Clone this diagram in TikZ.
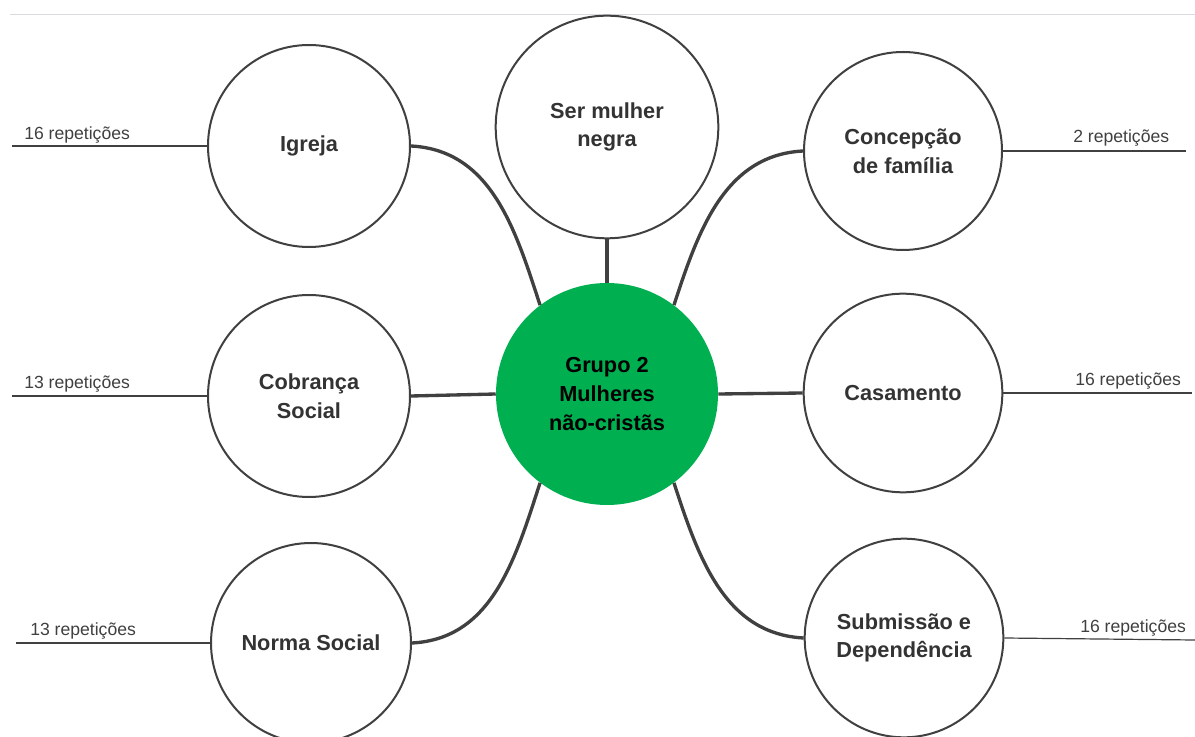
\documentclass[tikz,border=0pt]{standalone}
\usepackage{fontspec}
\setmainfont{Liberation Sans}
\definecolor{edge}{HTML}{404040}
\definecolor{txt}{HTML}{333333}
\definecolor{grn}{HTML}{00AF50}
\definecolor{topline}{HTML}{DADAE2}
\tikzset{
  bubble/.style={circle, draw=edge, line width=1.5pt, fill=white, inner sep=0pt,
    align=center, text=txt, font=\fontsize{16.3}{21.5}\selectfont\bfseries},
  hub/.style={circle, fill=grn, inner sep=0pt, minimum size=166.5pt,
    align=center, text=black, font=\fontsize{16.3}{21.75}\selectfont\bfseries},
  conn/.style={draw=edge, line width=2.5pt},
  tick/.style={draw=edge, line width=0.9pt},
  rep/.style={text=edge, font=\fontsize{13.2}{15}\selectfont, inner sep=0pt},
}
\begin{document}
\begin{tikzpicture}[x=0.75pt,y=0.75pt]
\useasboundingbox (0,0) rectangle (1195,-737);
\fill[white] (0,0) rectangle (1195,-737);
\draw[topline, line width=1pt] (10,-14.5) -- (1195,-14.5);

% nodes
\node[hub] (hub) at (607,-394) {Grupo 2\\Mulheres\\não-cristãs};
\node[bubble, minimum size=167pt] (ser) at (607,-127) {Ser mulher\\negra};
\node[bubble, minimum size=151.5pt] (igreja) at (309,-146) {Igreja};
\node[bubble, minimum size=151.5pt] (cobranca) at (309,-396) {Cobrança\\Social};
\node[bubble, minimum size=150pt] (norma) at (311,-643) {Norma Social};
\node[bubble, minimum size=148.5pt] (concepcao) at (903,-151) {Concepção\\de família};
\node[bubble, minimum size=149pt] (casamento) at (903,-393) {Casamento};
\node[bubble, minimum size=149pt] (submissao) at (904,-638) {Submissão e\\Dependência};

% connectors
\draw[conn] (ser.south) -- (hub.north);
\draw[conn] (igreja.east) to[out=-3,in=108] (hub.127);
\draw[conn] (cobranca.east) -- (hub.west);
\draw[conn] (norma.east) to[out=3,in=-108] (hub.233);
\draw[conn] (concepcao.west) to[out=183,in=72] (hub.53);
\draw[conn] (casamento.west) -- (hub.east);
\draw[conn] (submissao.west) to[out=177,in=-72] (hub.-53);

% repetition lines
\coordinate (e1) at (12,-146);
\coordinate (e2) at (12,-396);
\coordinate (e3) at (16,-643);
\coordinate (e4) at (1186,-151);
\coordinate (e5) at (1192,-393);
\coordinate (e6) at (1195,-640);
\draw[tick] (e1) -- (igreja.west);
\draw[tick] (e2) -- (cobranca.west);
\draw[tick] (e3) -- (norma.west);
\draw[tick] (e4) -- (concepcao.east);
\draw[tick] (e5) -- (casamento.east);
\draw[tick] (e6) -- (submissao.east);

\node[rep, anchor=base west] (r1) at (24,-140) {16 repetições};
\node[rep, anchor=base west] (r2) at (24,-389) {13 repetições};
\node[rep, anchor=base west] (r3) at (30,-635) {13 repetições};
\node[rep, anchor=base west] (r4) at (1073,-143) {2 repetições};
\node[rep, anchor=base west] (r5) at (1075,-386) {16 repetições};
\node[rep, anchor=base west] (r6) at (1080,-632) {16 repetições};
\end{tikzpicture}
\end{document}
